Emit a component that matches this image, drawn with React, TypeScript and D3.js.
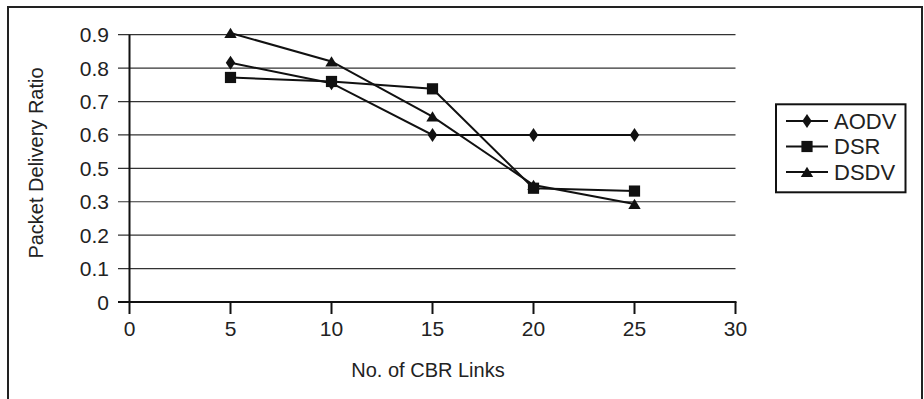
import React, { useEffect, useRef } from 'react';
import * as d3 from 'd3';

// values
const linkCounts = [5, 10, 15, 20, 25];
const aodvRatio = [0.816, 0.755, 0.6, 0.6, 0.6];
const dsrRatio = [0.772, 0.76, 0.738, 0.381, 0.364];
const dsdvRatio = [0.905, 0.82, 0.655, 0.4, 0.293];
const seriesNames = ['AODV', 'DSR', 'DSDV'];
const xTickValues = [0, 5, 10, 15, 20, 25, 30];
// the original axis skips 0.4
const yTickValues = [0, 0.1, 0.2, 0.3, 0.5, 0.6, 0.7, 0.8, 0.9];

const markerPath = (shape: string, cx: number, cy: number) => {
  if (shape === 'diamond') {
    return `M${cx},${cy - 7}L${cx + 4.7},${cy}L${cx},${cy + 7}L${cx - 4.7},${cy}Z`;
  }
  if (shape === 'square') {
    return `M${cx - 5.6},${cy - 5.6}h11.2v11.2h-11.2Z`;
  }
  return `M${cx},${cy - 5.3}L${cx + 6.2},${cy + 5}L${cx - 6.2},${cy + 5}Z`;
};

function App() {
  const ref = useRef<SVGSVGElement>(null);

  useEffect(() => {
    const width = 924,
          height = 399;

    const svg = d3.select(ref.current);
    svg.selectAll('*').remove();
    svg.attr('width', width).attr('height', height);

    const font = 'Liberation Sans, Arial, sans-serif';

    svg.append('rect')
      .attr('x', 8).attr('y', 7)
      .attr('width', 914).attr('height', 420)
      .attr('fill', 'white')
      .attr('stroke', '#222')
      .attr('stroke-width', 2);

    const x = d3.scaleLinear().domain([0, 30]).range([129.5, 735.5]);
    const step = (302 - 34.7) / 8;
    const y = d3.scaleLinear()
      .domain([0, 0.3, 0.5, 0.9])
      .range([302, 302 - 3 * step, 302 - 4 * step, 302 - 8 * step]);

    // gridlines + y ticks
    svg.append('g')
      .selectAll('line')
      .data(yTickValues.filter(d => d > 0))
      .enter()
      .append('line')
        .attr('x1', 118).attr('x2', x(30))
        .attr('y1', d => y(d)).attr('y2', d => y(d))
        .attr('stroke', '#333')
        .attr('stroke-width', 1.2);

    svg.append('line')
      .attr('x1', 118).attr('x2', x(0))
      .attr('y1', y(0)).attr('y2', y(0))
      .attr('stroke', '#111').attr('stroke-width', 2);

    svg.append('g')
      .selectAll('text')
      .data(yTickValues)
      .enter()
      .append('text')
        .attr('x', 109)
        .attr('y', d => y(d))
        .attr('dy', '0.36em')
        .attr('text-anchor', 'end')
        .style('font-family', font)
        .style('font-size', '21px')
        .attr('fill', '#222')
        .text(d => String(d));

    // axes
    svg.append('line')
      .attr('x1', x(0)).attr('x2', x(0))
      .attr('y1', y(0.9)).attr('y2', y(0) + 1)
      .attr('stroke', '#111').attr('stroke-width', 2);
    svg.append('line')
      .attr('x1', x(0) - 1).attr('x2', x(30) + 1)
      .attr('y1', y(0)).attr('y2', y(0))
      .attr('stroke', '#111').attr('stroke-width', 2);

    svg.append('g')
      .selectAll('line')
      .data(xTickValues)
      .enter()
      .append('line')
        .attr('x1', d => x(d)).attr('x2', d => x(d))
        .attr('y1', y(0)).attr('y2', y(0) + 12)
        .attr('stroke', '#111').attr('stroke-width', 2);

    svg.append('g')
      .selectAll('text')
      .data(xTickValues)
      .enter()
      .append('text')
        .attr('x', d => x(d))
        .attr('y', 336)
        .attr('text-anchor', 'middle')
        .style('font-family', font)
        .style('font-size', '21px')
        .attr('fill', '#222')
        .text(d => String(d));

    // axis titles
    svg.append('text')
      .attr('transform', 'translate(43,163) rotate(-90)')
      .attr('text-anchor', 'middle')
      .style('font-family', font)
      .style('font-size', '20px')
      .attr('fill', '#222')
      .text('Packet Delivery Ratio');

    svg.append('text')
      .attr('x', 428).attr('y', 377)
      .attr('text-anchor', 'middle')
      .style('font-family', font)
      .style('font-size', '20px')
      .attr('fill', '#222')
      .text('No. of CBR Links');

    // series
    const seriesValues = [aodvRatio, dsrRatio, dsdvRatio];
    const shapes = ['diamond', 'square', 'triangle'];
    const line = d3.line<number>()
      .x((d, i) => x(linkCounts[i]))
      .y(d => y(d));

    seriesValues.forEach((vals, s) => {
      svg.append('path')
        .attr('d', line(vals))
        .attr('fill', 'none')
        .attr('stroke', '#111')
        .attr('stroke-width', 2);

      svg.append('g')
        .selectAll('path')
        .data(vals)
        .enter()
        .append('path')
          .attr('d', (d, i) => markerPath(shapes[s], x(linkCounts[i]), y(d)))
          .attr('fill', '#111');
    });

    // legend
    const legend = svg.append('g');
    legend.append('rect')
      .attr('x', 776).attr('y', 104.3)
      .attr('width', 129.5).attr('height', 88)
      .attr('fill', 'white')
      .attr('stroke', '#111')
      .attr('stroke-width', 2);

    const legendY = d3.scalePoint<string>()
      .domain(seriesNames)
      .range([121, 172]);

    seriesNames.forEach((name, s) => {
      const ly = legendY(name) as number;
      legend.append('line')
        .attr('x1', 786).attr('x2', 828)
        .attr('y1', ly).attr('y2', ly)
        .attr('stroke', '#111').attr('stroke-width', 2);
      legend.append('path')
        .attr('d', markerPath(shapes[s], 807, ly))
        .attr('fill', '#111');
      legend.append('text')
        .attr('x', 834).attr('y', ly)
        .attr('dy', '0.36em')
        .style('font-family', font)
        .style('font-size', '22px')
        .attr('fill', '#222')
        .text(name);
    });
  }, []);

  return (
    <svg ref={ref} style={{ position: 'absolute', left: 0, top: 0 }}></svg>
  );
}

export default App;
